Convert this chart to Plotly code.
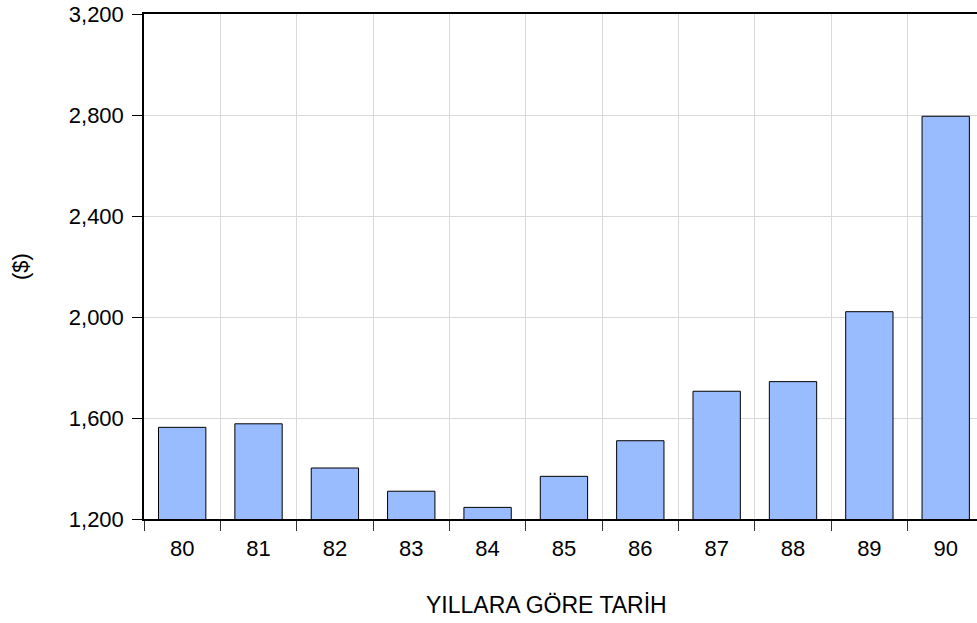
import plotly.graph_objects as go

years = ["80", "81", "82", "83", "84", "85", "86", "87", "88", "89", "90"]
values = [1563, 1577, 1402, 1310, 1246, 1369, 1510, 1706, 1744, 2021, 2795]
y_ticks = [1200, 1600, 2000, 2400, 2800, 3200]
y_tick_text = ["1,200", "1,600", "2,000", "2,400", "2,800", "3,200"]
x_title = "YILLARA GÖRE TARİH"
y_title = "($)"

W, H = 977, 623
L, T, B = 143.5, 14, 104
plot_w = W - L
plot_h = H - T - B

font = "Liberation Sans, Arial, sans-serif"

fig = go.Figure(
    go.Bar(
        x=years,
        y=values,
        marker=dict(color="#99BBFF", line=dict(color="#000000", width=1)),
        width=0.62,
        hoverinfo="x+y",
    )
)

fig.update_layout(
    width=W,
    height=H,
    margin=dict(l=L, r=0, t=T, b=B, pad=0),
    paper_bgcolor="white",
    plot_bgcolor="white",
    showlegend=False,
    font=dict(family=font, size=22, color="#000000"),
    xaxis=dict(
        type="category",
        range=[-0.5, -0.5 + plot_w / 76.4],
        tickson="boundaries",
        ticks="outside",
        ticklen=10,
        tickwidth=1,
        tickcolor="#333333",
        showgrid=True,
        gridcolor="#D9D9D9",
        gridwidth=1,
        showline=True,
        linecolor="#000000",
        linewidth=1.5,
        mirror=True,
        ticklabelstandoff=9,
        tickfont=dict(size=22),
        fixedrange=True,
    ),
    yaxis=dict(
        range=[1200, 3200],
        tickvals=y_ticks,
        ticktext=y_tick_text,
        ticks="outside",
        ticklen=10,
        tickwidth=1,
        tickcolor="#000000",
        showgrid=True,
        gridcolor="#D9D9D9",
        gridwidth=1,
        showline=True,
        linecolor="#000000",
        linewidth=1.5,
        mirror=False,
        zeroline=False,
        ticklabelstandoff=4,
        tickfont=dict(size=22),
        fixedrange=True,
    ),
    annotations=[
        dict(
            text=x_title,
            xref="paper",
            yref="paper",
            x=(546 - L) / plot_w,
            y=(519 - 605) / plot_h,
            xanchor="center",
            yanchor="middle",
            showarrow=False,
            font=dict(size=23, family=font, color="#000000"),
        ),
        dict(
            text=y_title,
            xref="paper",
            yref="paper",
            x=(20 - L) / plot_w,
            y=0.5,
            xanchor="center",
            yanchor="middle",
            textangle=-90,
            showarrow=False,
            font=dict(size=22, family=font, color="#000000"),
        ),
    ],
)

fig.write_html(
    "out.html",
    config={"displayModeBar": False},
    post_script="document.body.style.margin='0';document.body.style.overflow='hidden';",
)
